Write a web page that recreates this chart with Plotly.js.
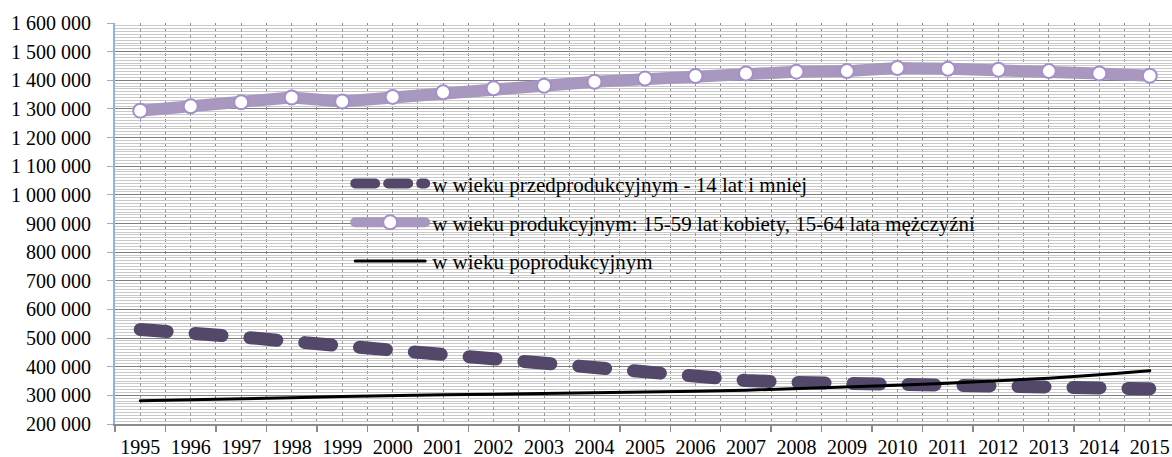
<!DOCTYPE html>
<html>
<head>
<meta charset="utf-8">
<script src="https://cdn.plot.ly/plotly-3.0.1.min.js"></script>
<style>html,body{margin:0;padding:0;background:#fff;}#chart{width:1172px;height:457px;}</style>
</head>
<body>
<div id="chart"></div>
<script>
const years = [1995, 1996, 1997, 1998, 1999, 2000, 2001, 2002, 2003, 2004, 2005, 2006, 2007, 2008, 2009, 2010, 2011, 2012, 2013, 2014, 2015];
const yearLabels = ["1995", "1996", "1997", "1998", "1999", "2000", "2001", "2002", "2003", "2004", "2005", "2006", "2007", "2008", "2009", "2010", "2011", "2012", "2013", "2014", "2015"];
const przedprodukcyjny = [530000, 520000, 504000, 488000, 472000, 458000, 444000, 427000, 410000, 394000, 379000, 366000, 352000, 345000, 341000, 341000, 340000, 334000, 330000, 324000, 323000];
const produkcyjny = [1294000, 1309000, 1323000, 1340000, 1326000, 1342000, 1358000, 1372000, 1381000, 1395000, 1406000, 1415000, 1424000, 1430000, 1432000, 1443000, 1440000, 1437000, 1432000, 1424000, 1416000];
const poprodukcyjny = [281000, 284000, 288000, 292000, 296000, 300000, 302000, 304000, 306000, 308000, 311000, 314000, 318000, 323000, 329000, 335000, 342000, 350000, 360000, 372000, 386000];
const seriesNames = [
  "w wieku przedprodukcyjnym - 14 lat i mniej",
  "w wieku produkcyjnym: 15-59 lat kobiety, 15-64 lata mężczyźni",
  "w wieku poprodukcyjnym"
];

const FONT = "Liberation Serif";

const traces = [
  {
    x: years, y: przedprodukcyjny, name: seriesNames[0], type: "scatter", mode: "lines",
    line: {color: "#54486a", width: 13, dash: "27px,28px"},
    legendgroup: "a"
  },
  {
    x: years, y: produkcyjny, name: seriesNames[1], type: "scatter", mode: "lines+markers",
    line: {color: "#a898bf", width: 12},
    marker: {size: 14, color: "#ffffff", line: {color: "#a58fcb", width: 2}},
    legendgroup: "b"
  },
  {
    x: years, y: poprodukcyjny, name: seriesNames[2], type: "scatter", mode: "lines",
    line: {color: "#000000", width: 3},
    legendgroup: "c"
  }
];

const layout = {
  width: 1172, height: 457,
  margin: {l: 115, r: 0, t: 23, b: 33},
  paper_bgcolor: "#ffffff", plot_bgcolor: "#ffffff",
  separators: ", ",
  font: {family: FONT, size: 20, color: "#000"},
  showlegend: true,
  legend: {
    x: 0.2225, y: 0.65, xanchor: "left", yanchor: "top",
    bgcolor: "rgba(0,0,0,0)", borderwidth: 0,
    font: {family: FONT, size: 21, color: "#000"},
    tracegroupgap: 8.5, itemwidth: 72, traceorder: "grouped"
  },
  xaxis: {
    type: "linear", range: [1994.5, 2015.44],
    tickmode: "array", tickvals: years, ticktext: yearLabels,
    ticks: "", showgrid: true, gridcolor: "#9a9a9a", griddash: "dot", gridwidth: 1,
    showline: true, linecolor: "#8c8c8c", linewidth: 2,
    zeroline: false, fixedrange: true,
    tickfont: {family: FONT, size: 20, color: "#000"},
    ticklabelstandoff: 4,
    minor: {tick0: 1994.5, dtick: 1, ticks: "outside", ticklen: 6, tickcolor: "#8c8c8c", tickwidth: 1.5,
            showgrid: true, gridcolor: "#8a8a8a", griddash: "dot", gridwidth: 1}
  },
  yaxis: {
    range: [200000, 1600000], tick0: 200000, dtick: 100000,
    tickformat: ",d",
    showgrid: true, gridcolor: "#7f7f7f", gridwidth: 1,
    showline: true, linecolor: "#8db3e2", linewidth: 2,
    ticks: "outside", ticklen: 6, tickcolor: "#8db3e2",
    zeroline: false, fixedrange: true,
    tickfont: {family: FONT, size: 20, color: "#000"},
    ticklabelstandoff: 12,
    minor: {dtick: 10000, showgrid: true, gridcolor: "#c9c9c9", gridwidth: 1, ticks: ""}
  }
};

Plotly.newPlot("chart", traces, layout, {staticPlot: true, displayModeBar: false}).then(function () {
  document.querySelectorAll(".scatterlayer .trace path.js-line").forEach(function (p) {
    p.style.strokeLinecap = "round";
    p.style.strokeLinejoin = "round";
  });
  document.querySelectorAll(".legend .traces .js-line").forEach(function (p) {
    p.setAttribute("d", "M5,0h70");
    p.style.strokeLinecap = "round";
  });
  document.querySelectorAll(".legend .traces .legendpoints path.scatterpts").forEach(function (p) {
    p.setAttribute("transform", "translate(40,0)");
  });
  const dashLeg = document.querySelectorAll(".legend .traces")[0];
  if (dashLeg) {
    const l = dashLeg.querySelector(".js-line");
    if (l) { l.style.strokeDasharray = "20px,13px"; }
  }
});
</script>
</body>
</html>
